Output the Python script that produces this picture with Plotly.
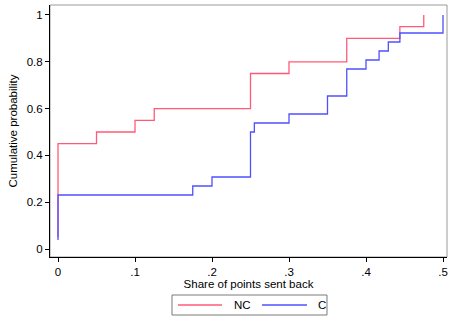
import plotly.graph_objects as go

# Share of points sent back, one entry per observation (sorted)
nc_values = [0, 0, 0, 0, 0, 0, 0, 0, 0, 0.05, 0.1, 0.125, 0.25, 0.25, 0.25,
             0.3, 0.375, 0.375, 0.444, 0.475]
c_values = [0, 0, 0, 0, 0, 0, 0.175, 0.2, 0.25, 0.25, 0.25, 0.25, 0.25, 0.255,
            0.3, 0.35, 0.35, 0.375, 0.375, 0.375, 0.4, 0.417, 0.429, 0.444, 0.5, 0.5]
series_names = ["NC", "C"]
series_colors = ["#ff5a78", "#5050ff"]

x_tickvals = [0, 0.1, 0.2, 0.3, 0.4, 0.5]
x_ticktext = ["0", ".1", ".2", ".3", ".4", ".5"]
y_tickvals = [0, 0.2, 0.4, 0.6, 0.8, 1]
y_ticktext = ["0", "0.2", "0.4", "0.6", "0.8", "1"]


def cdf(vals):
    s = sorted(vals)
    n = len(s)
    return s, [(i + 1) / n for i in range(n)]


FONT = "Liberation Sans, Arial, Helvetica, sans-serif"

fig = go.Figure()
for vals, name, color in zip([nc_values, c_values], series_names, series_colors):
    xs, ys = cdf(vals)
    fig.add_trace(go.Scatter(x=xs, y=ys, mode="lines", name=name, line_shape="hv",
                             line=dict(color=color, width=1.3), showlegend=False))

# plot frame
fig.add_shape(type="rect", xref="paper", yref="paper", x0=0, y0=0, x1=1, y1=1,
              line=dict(color="#9a9a9a", width=1), layer="below")

# manual legend box below the plot
fig.add_shape(type="rect", xref="paper", yref="paper", x0=0.3073, x1=0.6977,
              y0=-0.2302, y1=-0.1508, line=dict(color="#7a7a7a", width=1))
legend_layout = [(0.3224, 0.4332, 0.4584), (0.534, 0.6474, 0.670)]
for (lx0, lx1, tx), name, color in zip(legend_layout, series_names, series_colors):
    fig.add_shape(type="line", xref="paper", yref="paper", x0=lx0, x1=lx1,
                  y0=-0.1905, y1=-0.1905, line=dict(color=color, width=1.3))
    fig.add_annotation(xref="paper", yref="paper", x=tx, y=-0.1905, text=name,
                       showarrow=False, xanchor="left", yanchor="middle",
                       font=dict(size=11.5))

fig.update_layout(
    width=450, height=322,
    margin=dict(l=50, r=3, t=5, b=65, autoexpand=False),
    paper_bgcolor="white", plot_bgcolor="white",
    font=dict(family=FONT, size=11.5, color="black"),
    showlegend=False,
    xaxis=dict(range=[-0.0104, 0.5052], tickvals=x_tickvals, ticktext=x_ticktext,
               showgrid=False, zeroline=False, showline=True, linecolor="black",
               linewidth=1, ticks="outside", ticklen=4, tickcolor="black",
               title=dict(text="Share of points sent back", standoff=2,
                          font=dict(size=11.5)),
               automargin=False),
    yaxis=dict(range=[-0.0342, 1.0427], tickvals=y_tickvals, ticktext=y_ticktext,
               showgrid=False, zeroline=False, showline=True, linecolor="black",
               linewidth=1, ticks="outside", ticklen=4, tickcolor="black",
               title=dict(text="Cumulative probability", standoff=6,
                          font=dict(size=11.5)),
               automargin=False),
)

fig.write_html("out.html")
